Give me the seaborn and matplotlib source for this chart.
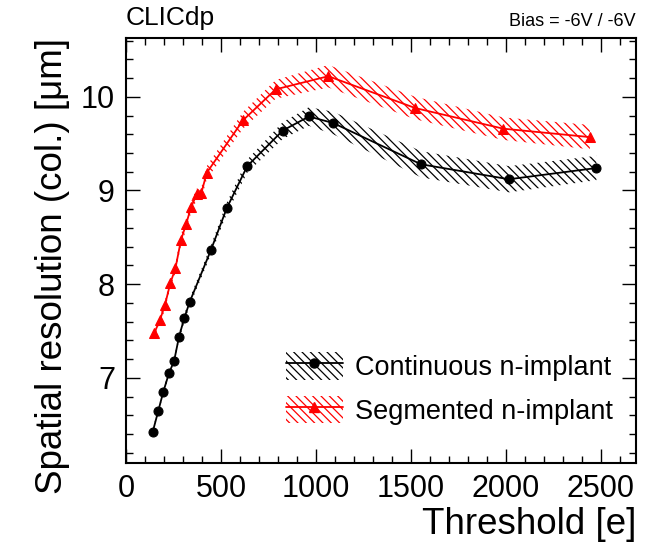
import matplotlib
matplotlib.use("Agg")
import matplotlib.pyplot as plt
import matplotlib.patches as mpatches
from matplotlib.lines import Line2D
from matplotlib.ticker import MultipleLocator
import seaborn as sns

# Data
thr_cont = [140, 170, 196, 226, 253, 279, 307, 335, 446, 530, 638, 825, 963, 1091, 1553, 2016, 2477]
res_cont = [6.42, 6.65, 6.85, 7.05, 7.18, 7.44, 7.64, 7.81, 8.36, 8.81, 9.26, 9.64, 9.79, 9.72, 9.28, 9.12, 9.24]
err_cont = [0.03, 0.03, 0.03, 0.03, 0.03, 0.04, 0.04, 0.04, 0.05, 0.06, 0.07, 0.09, 0.10, 0.12, 0.14, 0.14, 0.13]

thr_seg = [149, 179, 205, 233, 260, 289, 316, 342, 372, 396, 425, 616, 788, 1065, 1523, 1986, 2442]
res_seg = [7.48, 7.62, 7.78, 8.01, 8.17, 8.47, 8.64, 8.82, 8.96, 8.97, 9.19, 9.75, 10.08, 10.22, 9.88, 9.66, 9.57]
err_seg = [0.04, 0.04, 0.05, 0.05, 0.05, 0.06, 0.06, 0.06, 0.06, 0.06, 0.07, 0.09, 0.10, 0.12, 0.12, 0.12, 0.13]

labels = ["Continuous n-implant", "Segmented n-implant"]

sns.set_style("ticks")
plt.rcParams['font.family'] = ['Liberation Sans', 'DejaVu Sans']
plt.rcParams['hatch.linewidth'] = 0.9
plt.rcParams['xtick.direction'] = 'in'
plt.rcParams['ytick.direction'] = 'in'
for key in ['text.color', 'axes.labelcolor', 'xtick.color', 'ytick.color',
            'axes.edgecolor', 'xtick.labelcolor', 'ytick.labelcolor']:
    plt.rcParams[key] = 'black'

fig = plt.figure(figsize=(6.67, 5.48), dpi=100)
ax = fig.add_axes([0.189, 0.155, 0.7645, 0.776])

HATCH = '\\\\\\\\'
series = [
    (thr_cont, res_cont, err_cont, 'black', 'o', 6.5),
    (thr_seg, res_seg, err_seg, 'red', '^', 6.5),
]
handles = []
for (x, y, e, col, mk, ms), lab in zip(series, labels):
    lo = [v - d for v, d in zip(y, e)]
    hi = [v + d for v, d in zip(y, e)]
    ax.fill_between(x, lo, hi, facecolor='none', edgecolor=col,
                    hatch=HATCH, linewidth=0)
    sns.lineplot(x=x, y=y, ax=ax, color=col, marker=mk, markersize=ms,
                 markeredgecolor=col, linewidth=1.3, sort=False)
    patch = mpatches.Patch(facecolor='none', edgecolor=col, hatch=HATCH, linewidth=0)
    line = Line2D([], [], color=col, marker=mk, markersize=ms, linewidth=1.3)
    handles.append((patch, line))

ax.set_xlim(0, 2685)
ax.set_ylim(6.09, 10.63)
ax.xaxis.set_major_locator(MultipleLocator(500))
ax.xaxis.set_minor_locator(MultipleLocator(100))
ax.yaxis.set_major_locator(MultipleLocator(1))
ax.yaxis.set_minor_locator(MultipleLocator(0.2))
ax.tick_params(which='both', top=True, right=True, width=1.0, labelsize=22, pad=8)
ax.tick_params(which='major', length=10)
ax.tick_params(which='minor', length=5)
for sp in ax.spines.values():
    sp.set_linewidth(1.5)

ax.set_xlabel('Threshold [e]', fontsize=26.5, loc='right', labelpad=2)
ax.set_ylabel('Spatial resolution (col.) [μm]', fontsize=26.5, loc='top', labelpad=8)

fig.text(0.189, 0.945, 'CLICdp', fontsize=19, ha='left', va='bottom')
fig.text(0.953, 0.945, 'Bias = -6V / -6V', fontsize=13, ha='right', va='bottom')

ax.legend(handles, labels, loc='upper left', bbox_to_anchor=(0.4288, 0.358),
          bbox_transform=fig.transFigure, frameon=False, fontsize=19.5,
          handlelength=2.1, handleheight=1.2, handletextpad=0.45,
          labelspacing=0.55, borderpad=0, borderaxespad=0)

fig.savefig('out.png', dpi=100)
